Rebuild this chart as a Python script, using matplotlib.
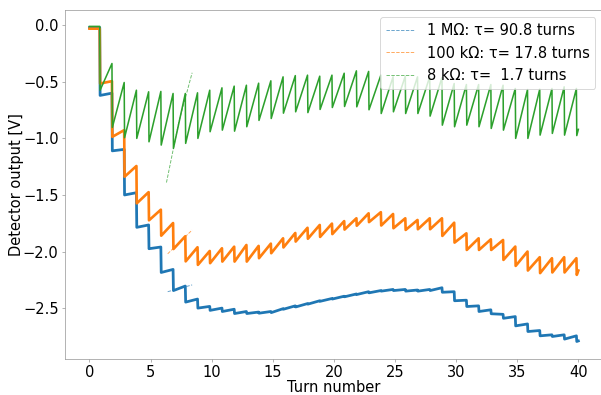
import numpy as np
import matplotlib
matplotlib.use("Agg")
import matplotlib.pyplot as plt

# ==============================================
# = Data             =
# ==============================================
# one kick per turn, kick k happens at turn KICK_PHASE + k
KICK_PHASE = 0.84
N_KICKS = 40
T_END = 40.0

# detector level [V] right before / right after each kick
blue_before = [-0.02, -0.60, -1.097, -1.48, -1.765, -1.96, -2.158, -2.305, -2.42, -2.485,
               -2.50, -2.51, -2.53, -2.535, -2.53, -2.505, -2.48, -2.46, -2.435, -2.415,
               -2.395, -2.375, -2.355, -2.345, -2.335, -2.335, -2.34, -2.335, -2.32, -2.355,
               -2.43, -2.48, -2.515, -2.555, -2.575, -2.64, -2.698, -2.736, -2.736, -2.745]
blue_after = [-0.62, -1.11, -1.50, -1.786, -1.975, -2.185, -2.345, -2.447, -2.50, -2.52,
              -2.53, -2.548, -2.548, -2.545, -2.54, -2.51, -2.49, -2.465, -2.44, -2.42,
              -2.40, -2.38, -2.365, -2.35, -2.345, -2.35, -2.35, -2.345, -2.36, -2.435,
              -2.486, -2.53, -2.55, -2.59, -2.657, -2.707, -2.745, -2.751, -2.774, -2.795]
blue_start, blue_end = -0.02, -2.79

orange_before = [-0.03, -0.494, -0.927, -1.244, -1.475, -1.63, -1.748, -1.865, -1.962, -1.995,
                 -1.971, -1.957, -1.942, -1.95, -1.93, -1.883, -1.836, -1.79, -1.765, -1.753,
                 -1.731, -1.706, -1.662, -1.652, -1.668, -1.706, -1.721, -1.706, -1.706, -1.745,
                 -1.839, -1.883, -1.892, -1.898, -1.956, -2.0, -2.05, -2.059, -2.05, -2.059]
orange_after = [-0.515, -0.986, -1.339, -1.574, -1.724, -1.86, -1.978, -2.087, -2.118, -2.103,
                -2.089, -2.089, -2.089, -2.059, -2.015, -1.964, -1.912, -1.887, -1.871, -1.846,
                -1.806, -1.772, -1.74, -1.77, -1.794, -1.809, -1.803, -1.803, -1.862, -1.921,
                -1.986, -1.986, -1.986, -2.074, -2.127, -2.168, -2.191, -2.185, -2.185, -2.206]
orange_start, orange_end = -0.03, -2.168

green_before = [-0.01, -0.338, -0.506, -0.574, -0.588, -0.585, -0.603, -0.603, -0.597, -0.574,
                -0.553, -0.538, -0.530, -0.512, -0.491, -0.456, -0.445, -0.441, -0.45, -0.441,
                -0.424, -0.403, -0.408, -0.441, -0.456, -0.45, -0.456, -0.456, -0.462, -0.515,
                -0.524, -0.524, -0.524, -0.53, -0.559, -0.568, -0.565, -0.559, -0.544, -0.559]
green_after = [-0.574, -0.903, -0.994, -1.0, -1.03, -1.059, -1.088, -1.044, -1.0, -0.941,
               -0.927, -0.936, -0.897, -0.841, -0.824, -0.777, -0.765, -0.772, -0.744, -0.727,
               -0.718, -0.721, -0.747, -0.78, -0.765, -0.78, -0.78, -0.803, -0.883, -0.897,
               -0.883, -0.897, -0.912, -0.927, -1.0, -1.0, -0.971, -0.956, -0.971, -0.975]
green_start, green_end = -0.01, -0.92

# exponential fits (short dashed segments)
fit_blue_t = [6.4, 8.4]
fit_blue_v = [-2.355, -2.295]
fit_orange_t = [6.4, 8.4]
fit_orange_v = [-2.02, -1.81]
fit_green_t = [6.3, 7.3, 8.4]
fit_green_v = [-1.39, -0.86, -0.42]

fit_labels = ["1 M\u03a9: \u03c4= 90.8 turns",
              "100 k\u03a9: \u03c4= 17.8 turns",
              "8 k\u03a9: \u03c4=  1.7 turns"]

C_BLUE, C_ORANGE, C_GREEN = "#1f77b4", "#ff7f0e", "#2ca02c"
DPI = 66


def sawtooth_trace(start, before, after, end):
    t, v = [0.0], [start]
    for k, (b, a) in enumerate(zip(before, after)):
        tk = KICK_PHASE + k
        t += [tk, tk + 0.03]
        v += [b, a]
    t.append(T_END)
    v.append(end)
    return np.array(t), np.array(v)


def main():
    plt.rcParams["font.size"] = 16
    fig = plt.figure(figsize=(601 / DPI, 395 / DPI), dpi=DPI)
    ax = fig.add_axes([0.1082, 0.0911, 0.8948, 0.8836])

    for start, before, after, end, color, lw in [
        (blue_start, blue_before, blue_after, blue_end, C_BLUE, 3.0),
        (orange_start, orange_before, orange_after, orange_end, C_ORANGE, 2.9),
        (green_start, green_before, green_after, green_end, C_GREEN, 1.7),
    ]:
        t, v = sawtooth_trace(start, before, after, end)
        ax.plot(t, v, color=color, lw=lw)

    for tt, vv, color, label in [
        (fit_blue_t, fit_blue_v, C_BLUE, fit_labels[0]),
        (fit_orange_t, fit_orange_v, C_ORANGE, fit_labels[1]),
        (fit_green_t, fit_green_v, C_GREEN, fit_labels[2]),
    ]:
        ax.plot(tt, vv, color=color, lw=1.0, ls="--", alpha=0.7, label=label)

    ax.set_xlim(-2, 42)
    ax.set_ylim(-2.95, 0.135)
    ax.set_xticks([0, 5, 10, 15, 20, 25, 30, 35, 40])
    ax.set_yticks([0.0, -0.5, -1.0, -1.5, -2.0, -2.5])
    ax.set_xlabel("Turn number", labelpad=0)
    ax.set_ylabel("Detector output [V]", labelpad=-1)

    for s in ax.spines.values():
        s.set_color("#999999")
    ax.tick_params(color="#999999")

    ax.legend(loc="upper right")
    fig.savefig("out.png", dpi=DPI)


if __name__ == "__main__":
    main()
